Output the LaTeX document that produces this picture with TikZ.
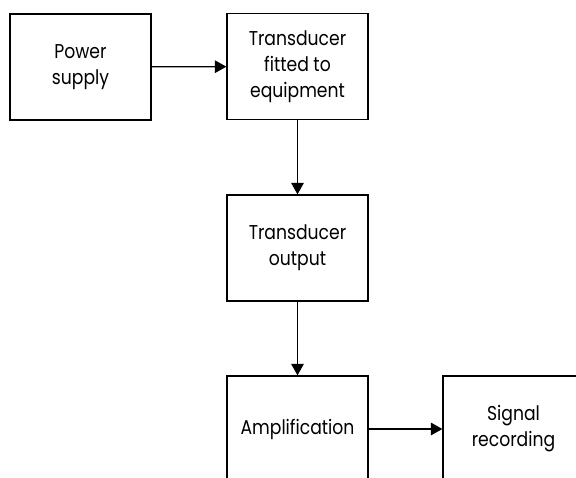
\documentclass[tikz,border=0pt]{standalone}
\usepackage{fontspec}
\setmainfont[FakeStretch=0.86]{Poppins}
\usetikzlibrary{arrows.meta}
\tikzset{
  block/.style={draw, line width=1.2pt, minimum width=141pt, minimum height=106pt,
    inner sep=0pt, align=center, font=\fontsize{20}{26}\selectfont},
  link/.style={line width=1.2pt, -{Triangle[length=11.5pt,width=12.5pt]}}
}
\begin{document}
\begin{tikzpicture}[x=1pt,y=-1pt]
  \useasboundingbox (0,0) rectangle (576,477);
  \clip (0,0) rectangle (576,477);
  \node[block] (power) at (80.5,67) {Power\\supply};
  \node[block] (fitted) at (297.5,66.5) {Transducer\\fitted to\\equipment};
  \node[block] (output) at (297.5,248) {Transducer\\output};
  \node[block] (amp) at (297.5,429) {Amplification};
  \node[block] (rec) at (513.5,429) {Signal\\recording};
  \draw[link] (power) -- (fitted);
  \draw[link] (fitted) -- (output);
  \draw[link] (output) -- (amp);
  \draw[link] (amp) -- (rec);
\end{tikzpicture}
\end{document}
